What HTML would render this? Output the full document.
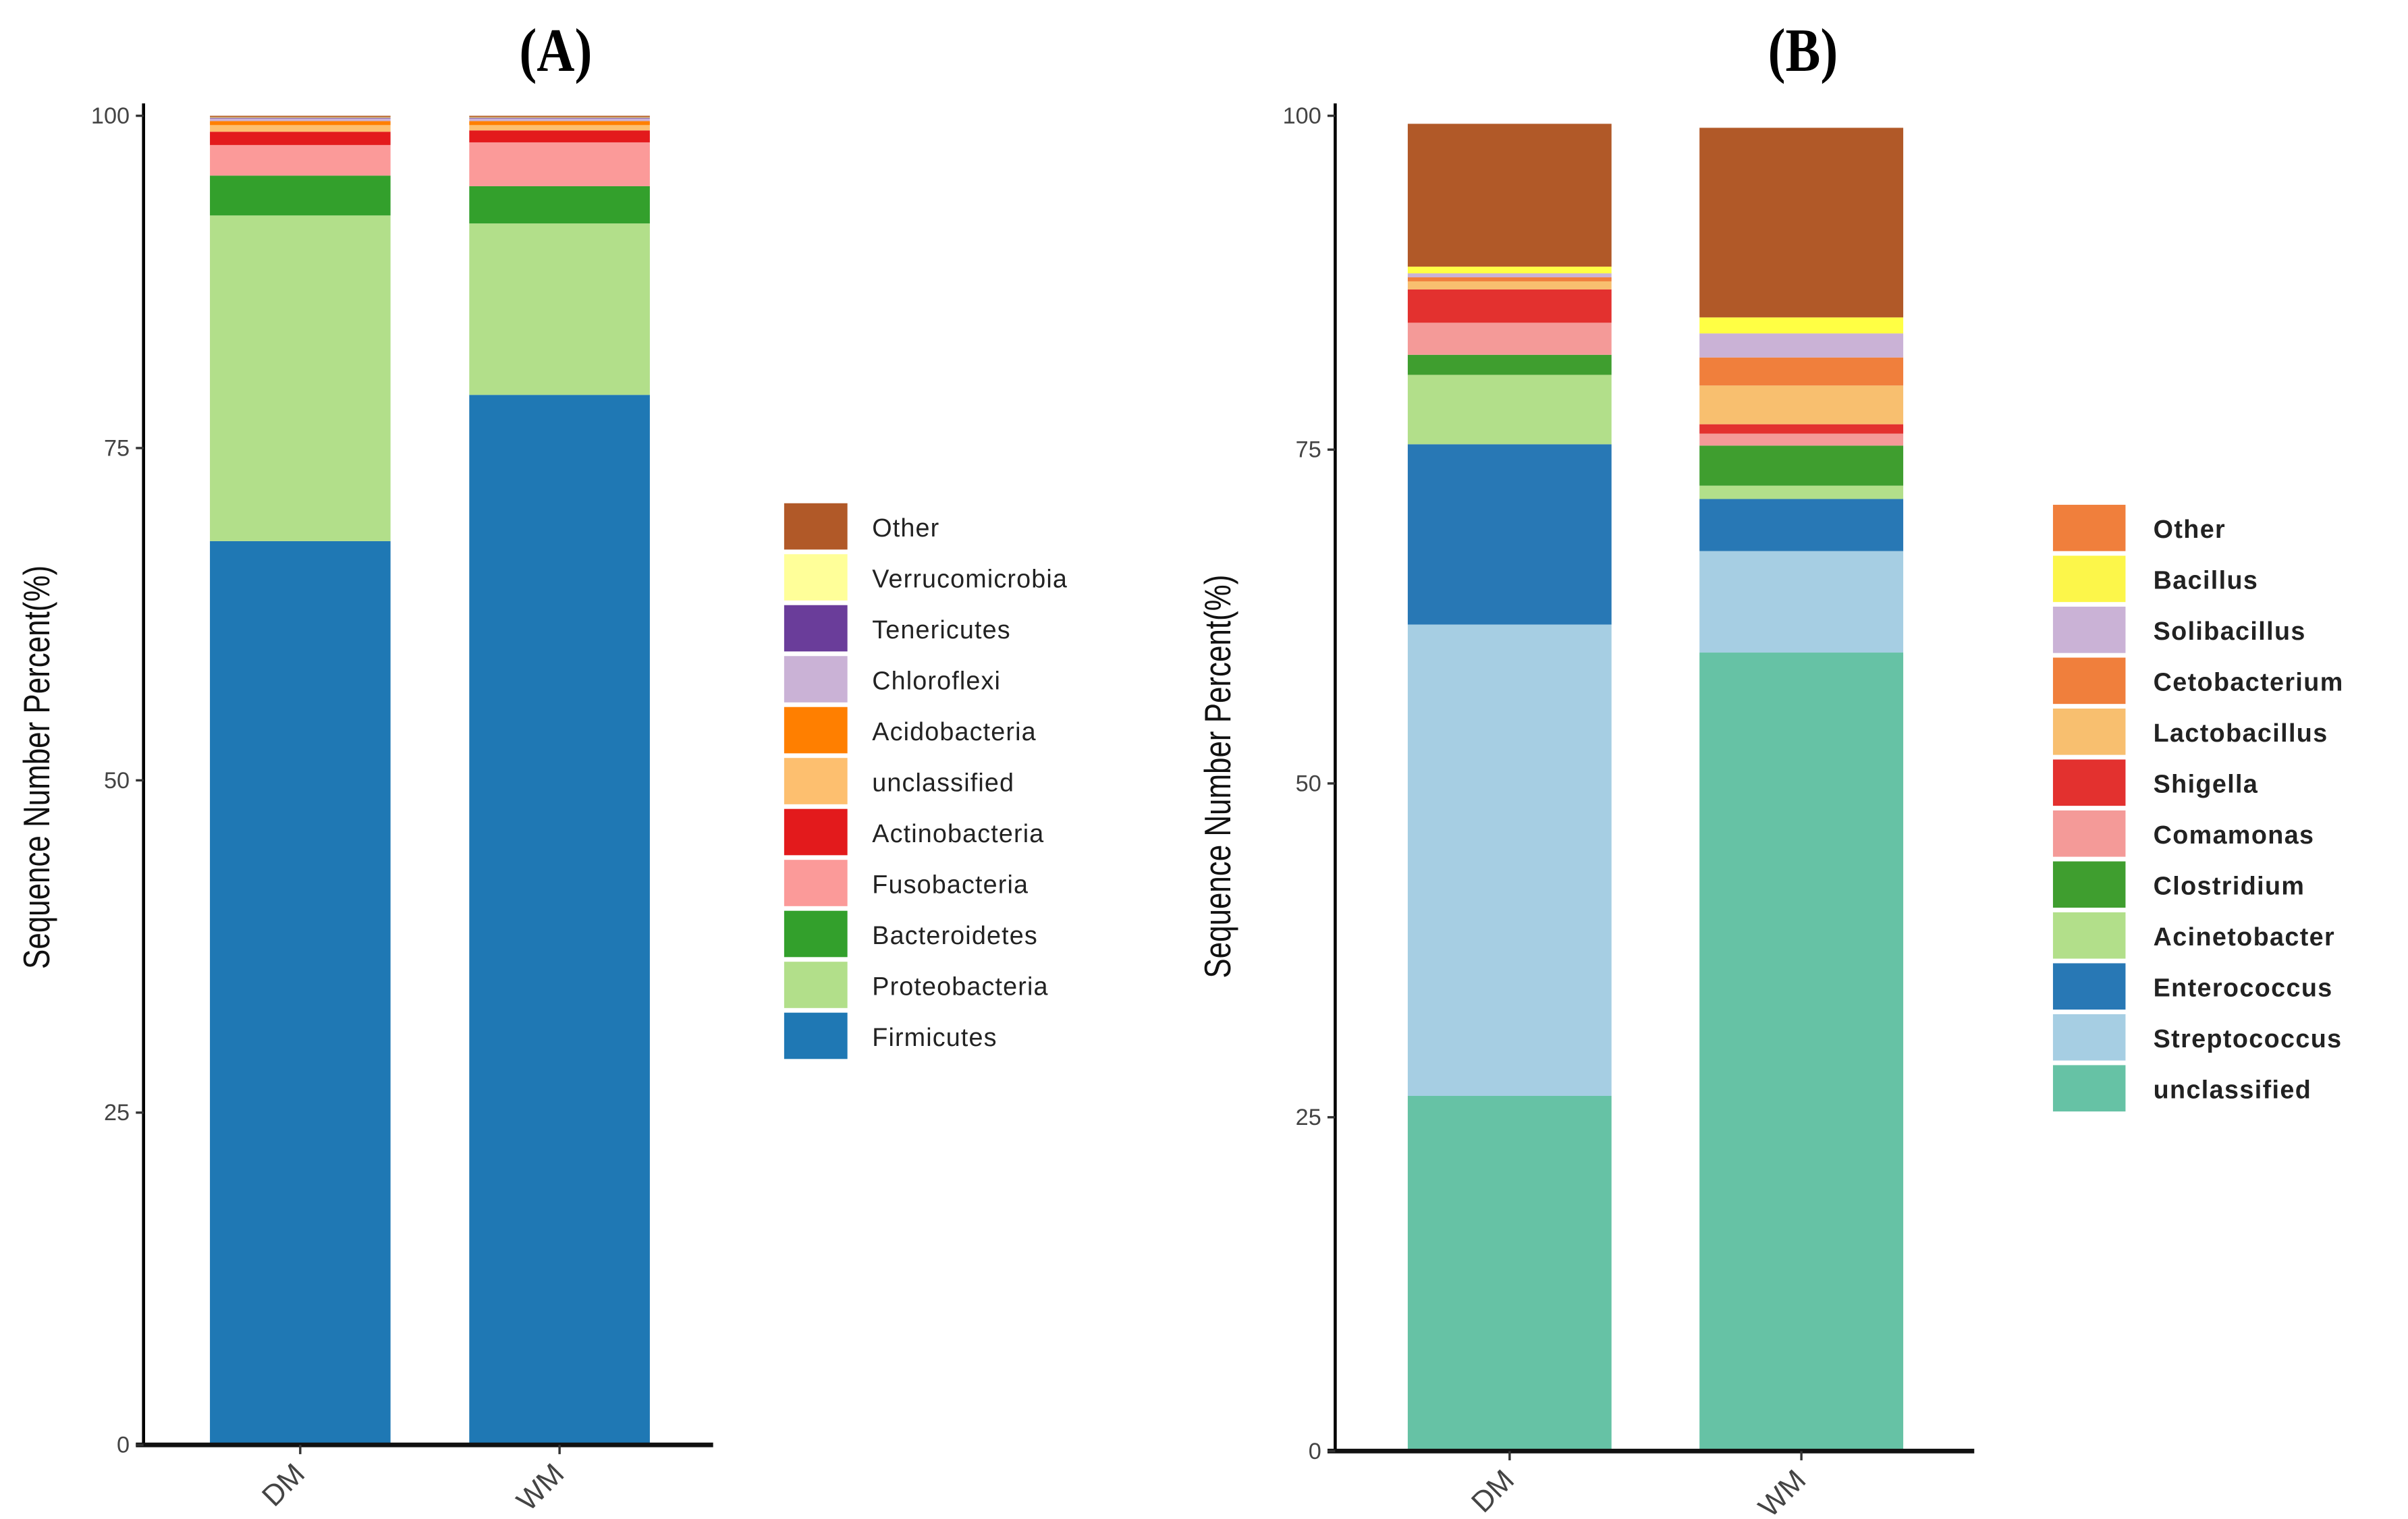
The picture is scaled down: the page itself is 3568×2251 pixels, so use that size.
<!DOCTYPE html>
<html><head><meta charset="utf-8">
<style>
html,body{margin:0;padding:0;background:#fff;}
svg{display:block;}
text{font-family:"Liberation Sans",sans-serif;}
</style></head>
<body>
<svg id="fig" width="3568" height="2251" viewBox="0 0 1560 984" preserveAspectRatio="none" xmlns="http://www.w3.org/2000/svg">
<g id="pa"></g>
<g id="pb"></g>
</svg>
<script>
const samples = ["DM","WM"];
const ticks = [0,25,50,75,100];
// Panel A (phylum) – bottom-to-top order
const taxaA = ["Firmicutes","Proteobacteria","Bacteroidetes","Fusobacteria","Actinobacteria","unclassified","Acidobacteria","Chloroflexi","Tenericutes","Verrucomicrobia","Other"];
const colorsA = ["#1f78b4","#b2df8a","#33a02c","#fb9a99","#e31a1c","#fdbf6f","#ff7f00","#cab2d6","#6a3d9a","#ffff99","#b15928"];
const dmA = [68.0,24.5,3.0,2.3,1.0,0.5,0.3,0.2,0.05,0.05,0.1];
const wmA = [79.0,12.9,2.8,3.3,0.9,0.4,0.3,0.2,0.05,0.05,0.1];
// Panel B (genus)
const taxaB = ["unclassified","Streptococcus","Enterococcus","Acinetobacter","Clostridium","Comamonas","Shigella","Lactobacillus","Cetobacterium","Solibacillus","Bacillus","Other"];
const colorsB = ["#66c2a5","#a6cee3","#2878b5","#b2df8a","#3f9e2f","#f49a98","#e3312f","#f8bf6f","#f07f3c","#cab2d6","#ffff44","#b15928"];
const legendColorsB = ["#66c2a5","#a6cee3","#2878b5","#b2df8a","#3f9e2f","#f49a98","#e3312f","#f8bf6f","#f07f3c","#cab2d6","#fcf64a","#f07f3c"];
const dmB = [26.6,35.3,13.5,5.2,1.5,2.4,2.5,0.6,0.3,0.3,0.5,10.7];
const wmB = [59.8,7.6,3.9,1.0,3.0,0.9,0.7,2.9,2.1,1.8,1.2,14.2];

const NS="http://www.w3.org/2000/svg";
function mk(parent,tag,attrs,txt){const e=document.createElementNS(NS,tag);for(const k in attrs)e.setAttribute(k,attrs[k]);if(txt!==undefined)e.textContent=txt;parent.appendChild(e);return e;}

function drawPanel(g,cfg){
  const y=v=>cfg.y0-(cfg.y0-cfg.y100)*v/100;
  const t=mk(g,'text',{x:0,y:0,'text-anchor':'middle','font-size':40,'font-weight':'bold',style:'font-family:"Liberation Serif",serif',transform:`translate(${cfg.titleX} 46) scale(0.85 1)`},cfg.title);
  
  
  cfg.series.forEach((vals,si)=>{
    let acc=0;
    vals.forEach((v,i)=>{
      const r=mk(g,'rect',{x:cfg.barX[si],y:y(acc+v),width:cfg.barW,height:Math.max(0,y(acc)-y(acc+v)),fill:cfg.colors[i]});
      
      
      acc+=v;
    });
  });
  const ya=mk(g,'line',{x1:cfg.ax,y1:cfg.y100-8,x2:cfg.ax,y2:cfg.y0,stroke:'#000','stroke-width':2});
  
  
  const xa=mk(g,'line',{x1:cfg.ax-5,y1:cfg.y0,x2:cfg.xEnd,y2:cfg.y0,stroke:'#111','stroke-width':3});
  
  
  ticks.forEach(tv=>{
    mk(g,'line',{x1:cfg.ax-5,y1:y(tv),x2:cfg.ax,y2:y(tv),stroke:'#333','stroke-width':1.5});
    const tl=mk(g,'text',{x:cfg.ax-9,y:y(tv)+5,'text-anchor':'end','font-size':15,fill:'#444'},String(tv));
    
    
  });
  samples.forEach((s,si)=>{
    const cx=cfg.barX[si]+cfg.barW/2;
    mk(g,'line',{x1:cx,y1:cfg.y0,x2:cx,y2:cfg.y0+6,stroke:'#333','stroke-width':1.5});
    const xl=mk(g,'text',{x:cx+4,y:cfg.y0+20,'text-anchor':'end','font-size':19,fill:'#444',transform:`rotate(-45 ${cx+4} ${cfg.y0+20})`},s);
    
    
  });
  const yt=mk(g,'text',{x:0,y:0,'text-anchor':'middle','font-size':24,fill:'#111',transform:`translate(${cfg.ytX} ${cfg.ytY}) rotate(-90) scale(0.8 1)`},'Sequence Number Percent(%)');
  
  
  const n=cfg.taxa.length;
  for(let k=0;k<n;k++){
    const i=n-1-k;
    const ly=cfg.legY+k*cfg.legStep;
    const lg=mk(g,'g',{});
    
    
    mk(lg,'rect',{x:cfg.legX,y:ly,width:cfg.legW,height:cfg.legStep-3,fill:cfg.legColors[i]});
    mk(lg,'text',{x:cfg.legTX,y:ly+cfg.legStep/2+5,'font-size':cfg.legFS,'font-weight':cfg.legBold?'bold':'normal',fill:'#222','letter-spacing':cfg.legLS},cfg.taxa[i]);
  }
}
drawPanel(document.getElementById('pa'),{title:'(A)',titleX:360,y0:936,y100:75,ax:93,xEnd:462,barX:[136,304],barW:117,
  series:[dmA,wmA],taxa:taxaA,colors:colorsA,legColors:colorsA,ytX:32,ytY:497,legX:508,legW:41,legY:326,legStep:33,legTX:565,legFS:16.5,legLS:0.5,legBold:false});
drawPanel(document.getElementById('pb'),{title:'(B)',titleX:1168,y0:940,y100:75,ax:865,xEnd:1279,barX:[912,1101],barW:132,
  series:[dmB,wmB],taxa:taxaB,colors:colorsB,legColors:legendColorsB,ytX:797,ytY:503,legX:1330,legW:47,legY:327,legStep:33,legTX:1395,legFS:16.5,legLS:0.6,legBold:true});
</script>
</body></html>
